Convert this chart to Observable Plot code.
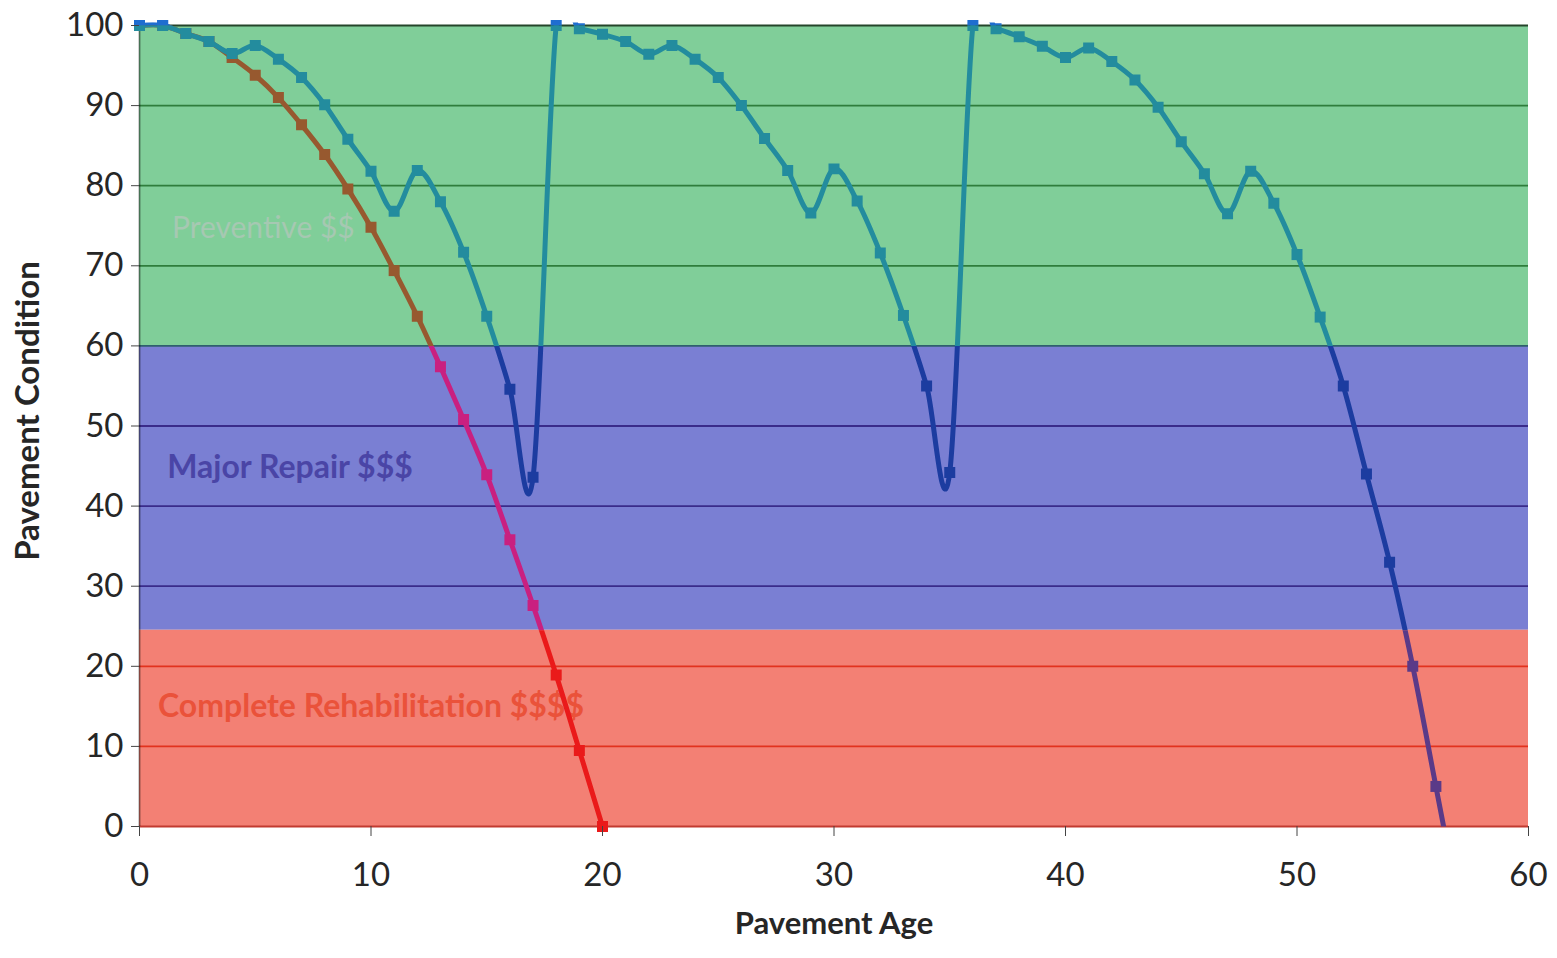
<!DOCTYPE html>
<html>
<head>
<meta charset="utf-8">
<script src="https://cdn.jsdelivr.net/npm/d3@7"></script>
<script src="https://cdn.jsdelivr.net/npm/@observablehq/plot@0.6"></script>
<style>
  html, body { margin: 0; padding: 0; background: #fff; }
  #chart svg { display: block; }
</style>
</head>
<body>
<div id="chart"></div>
<script>
// ---- Data ----
// Pavement without maintenance
const ageNoMaint = [0, 1, 2, 3, 4, 5, 6, 7, 8, 9, 10, 11, 12, 13, 14, 15, 16, 17, 18, 19, 20];
const condNoMaint = [100, 100, 99, 98, 96, 93.8, 91, 87.6, 83.9, 79.6, 74.8, 69.4, 63.7, 57.4, 50.8, 43.9, 35.8, 27.6, 18.9, 9.5, 0];

// Pavement with preventive maintenance and resurfacing cycles
const ageMaint = [0, 1, 2, 3, 4, 5, 6, 7, 8, 9, 10, 11, 12, 13, 14, 15, 16, 17,
                  18, 19, 20, 21, 22, 23, 24, 25, 26, 27, 28, 29, 30, 31, 32, 33, 34, 35,
                  36, 37, 38, 39, 40, 41, 42, 43, 44, 45, 46, 47, 48, 49, 50, 51, 52, 53,
                  54, 55, 56, 57];
const condMaint = [100, 100, 99, 98, 96.5, 97.5, 95.8, 93.5, 90.1, 85.8, 81.8, 76.8, 81.9, 78, 71.7, 63.7, 54.6, 43.6,
                   100, 99.6, 98.9, 98, 96.4, 97.5, 95.8, 93.5, 90, 85.9, 81.9, 76.6, 82.1, 78.1, 71.6, 63.8, 55, 44.2,
                   100, 99.6, 98.6, 97.4, 96, 97.2, 95.5, 93.2, 89.8, 85.5, 81.5, 76.5, 81.8, 77.8, 71.4, 63.6, 55, 44,
                   33, 20, 5, -10];

// Condition bands
const bandNames = ["Preventive $$", "Major Repair $$$", "Complete Rehabilitation $$$$"];
const bandKeys = ["green", "blue", "red"];
const bandLow = [60, 24.5, 0];
const bandHigh = [100, 60, 24.5];

// Axes
const xTicks = [0, 10, 20, 30, 40, 50, 60];
const yTicks = [0, 10, 20, 30, 40, 50, 60, 70, 80, 90, 100];
const xTitle = "Pavement Age";
const yTitle = "Pavement Condition";

// ---- Styles ----
const bandFill = {green: "#80ce99", blue: "#7a7fd3", red: "#f38074"};
const bandText = {green: "#a6c8b2", blue: "#4a45a6", red: "#ea523a"};
const bandWeight = {green: "normal", blue: "bold", red: "bold"};
const bandFont = {green: 30, blue: 32, red: 32};
const maintColors = {above: "#1f6dd0", green: "#238c9e", blue: "#1c3ca0", red: "#5a3a88"};
const noMaintColors = {above: "#1f6dd0", green: "#97592f", blue: "#c92080", red: "#ea1a1a"};
const zones = ["above", "green", "blue", "red"];

// ---- Tables ----
const noMaint = ageNoMaint.map((a, i) => ({age: a, cond: condNoMaint[i]}));
const maint = ageMaint.map((a, i) => ({age: a, cond: condMaint[i]}));
const bands = bandNames.map((n, i) => ({name: n, key: bandKeys[i], low: bandLow[i], high: bandHigh[i]}));
// label anchors (data space)
const labelAge = [1.4, 1.2, 0.8];
const labelCond = [74.7, 44.8, 14.9];
const labels = bands.map((b, i) => ({...b, age: labelAge[i], cond: labelCond[i]}));

function gridColor(v) {
  if (v >= 100) return "#24452a";
  if (v > 60) return "#2f7d3c";
  if (v === 60) return "#2f5f6e";
  if (v > 24.5) return "#3a2b8a";
  if (v > 0) return "#e2321e";
  return "#c23a30";
}

const seriesMarks = [];
for (const [data, colors] of [[noMaint, noMaintColors], [maint, maintColors]]) {
  for (const z of zones) {
    seriesMarks.push(Plot.line(data, {x: "age", y: "cond", stroke: colors[z], strokeWidth: 5,
      curve: "cardinal", ariaDescription: "zone-line-" + z}));
  }
  for (const z of zones) {
    seriesMarks.push(Plot.dot(data, {filter: d => d.cond >= 0, x: "age", y: "cond", symbol: "square",
      fill: colors[z], r: 6.2, ariaDescription: "zone-dot-" + z}));
  }
}

const chart = Plot.plot({
  width: 1557,
  height: 958,
  marginLeft: 139,
  marginRight: 29,
  marginTop: 25,
  marginBottom: 132,
  style: {fontFamily: "Lato, 'Open Sans', sans-serif", fontSize: "33px", color: "#262626", background: "#fff"},
  x: {domain: [0, 60]},
  y: {domain: [0, 100]},
  marks: [
    // opaque condition bands
    ...bands.map(b => Plot.rect([b], {y1: "low", y2: "high", fill: bandFill[b.key]})),
    // gridlines tinted by band
    Plot.ruleY(yTicks, {stroke: gridColor, strokeWidth: 1.8}),
    Plot.ruleX([0], {stroke: "#000", strokeOpacity: 0.45, strokeWidth: 1.8}),
    // band labels
    ...labels.map(l => Plot.text([l], {x: "age", y: "cond", text: "name", fill: bandText[l.key],
      textAnchor: "start", fontSize: bandFont[l.key], fontWeight: bandWeight[l.key]})),
    // curves
    ...seriesMarks,
    // axes
    Plot.axisY({ticks: yTicks, tickSize: 8, tickPadding: 8, fontSize: 33, label: null, stroke: "#444"}),
    Plot.axisX({ticks: xTicks, tickSize: 10, tickPadding: 26, fontSize: 33, label: null, stroke: "#444"}),
    Plot.text([xTitle], {frameAnchor: "bottom", dy: 107, fontWeight: "bold", fontSize: 31, fill: "#262626"}),
    Plot.text([yTitle], {frameAnchor: "left", textAnchor: "middle", dx: -111, dy: -15, rotate: -90,
      fontWeight: "bold", fontSize: 33, fill: "#262626"})
  ]
});
document.getElementById("chart").appendChild(chart);

// ---- Clip each coloured copy of the curves to its band, using Plot's y scale ----
const ys = chart.scale("y");
const W = 1557, H = 958;
const svg = d3.select(chart);
const defs = svg.insert("defs", ":first-child");
const zoneRange = {
  line: {above: [ys.apply(100) - 3, ys.apply(100)], green: [ys.apply(100), ys.apply(60)],
         blue: [ys.apply(60), ys.apply(24.5)], red: [ys.apply(24.5), ys.apply(0)]},
  dot:  {above: [0, ys.apply(100)], green: [ys.apply(100), ys.apply(60)],
         blue: [ys.apply(60), ys.apply(24.5)], red: [ys.apply(24.5), H]}
};
for (const kind of ["line", "dot"]) {
  for (const z of zones) {
    const id = "zone-" + kind + "-" + z;
    const [y0, y1] = zoneRange[kind][z];
    defs.append("clipPath").attr("id", id)
      .append("rect").attr("x", 0).attr("width", W).attr("y", y0).attr("height", Math.max(0, y1 - y0));
    svg.selectAll('g[aria-description="' + id + '"]').attr("clip-path", "url(#" + id + ")");
  }
}
</script>
</body>
</html>
